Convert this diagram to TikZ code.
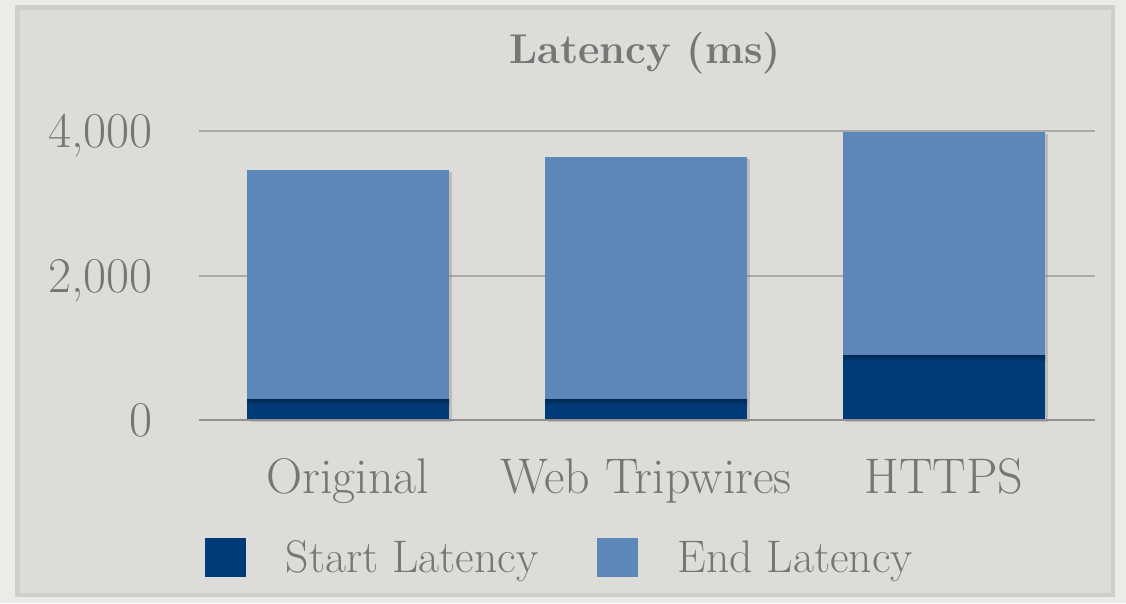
\documentclass[tikz,border=0pt]{standalone}
\usetikzlibrary{positioning}
\usetikzlibrary{shadows}
\definecolor{paper}{HTML}{ECEBE7}
\definecolor{panel}{HTML}{DDDCD9}
\definecolor{rim}{HTML}{CFCECB}
\definecolor{gridc}{HTML}{ABAAA7}
\definecolor{ink}{HTML}{767676}
\definecolor{startc}{HTML}{003A78}
\definecolor{endc}{HTML}{5B87B9}
\tikzset{
    panelbox/.style = {draw=rim, line width=2.8pt, fill=panel},
    gridln/.style = {draw=gridc, line width=1.1pt},
    baseln/.style = {draw=gridc!85!black, line width=1.3pt},
    endbar/.style = {fill=endc, drop shadow={opacity=0.35, shadow xshift=1.8pt, shadow yshift=-1.2pt}},
    startbar/.style = {fill=startc},
    ticklbl/.style = {text=ink, font=\fontsize{28.5}{32}\selectfont, inner sep=0pt},
    catlbl/.style = {text=ink, font=\fontsize{28.5}{32}\selectfont, inner sep=0pt},
    titlelbl/.style = {text=ink, font=\fontsize{23.7}{28}\selectfont\bfseries, inner sep=0pt},
    keybox/.style = {rectangle, inner sep=0pt, minimum width=0.82cm, minimum height=0.78cm},
    keylbl/.style = {text=ink, font=\fontsize{26}{30}\selectfont, inner sep=0pt}
}

\begin{document}
\begin{tikzpicture}[x=0.02cm, y=-0.02cm]
\useasboundingbox (0,0) rectangle (1126,603);
\fill[paper] (0,0) rectangle (1126,603);
\draw[panelbox] (17.5,7.5) rectangle (1113,595);
%
\node[titlelbl, anchor=base] (title) at (645,63) {Latency (ms)};
%
\draw[gridln] (199,131) -- (1095,131);
\draw[gridln] (199,276) -- (1095,276);
\node[ticklbl, anchor=base east] (y4000) at (153,147) {4,000};
\node[ticklbl, anchor=base east] (y2000) at (153,292) {2,000};
\node[ticklbl, anchor=base east] (y0) at (153,436) {0};
%
\foreach \n/\cx/\s/\e/\lab in {orig/348/290/3470/Original, web/646/290/3650/Web Tripwires, https/944/900/4000/HTTPS}
{
  \fill[endbar] (\cx-101,{420-\e*0.072}) rectangle (\cx+101,420);
  \fill[startbar] (\cx-101,{420-\s*0.072}) rectangle (\cx+101,420);
  \shade[top color=startc!70!black, bottom color=startc] (\cx-101,{420-\s*0.072}) rectangle (\cx+101,{426-\s*0.072});
  \node[catlbl, anchor=base] (cat-\n) at (\cx,493) {\lab};
}
\draw[baseln] (199,420) -- (1095,420);
%
\node[keybox, fill=startc] (kstart) at (225.5,557.5) {};
\node[keylbl, right=0.78cm of kstart, yshift=-0.08cm] (tstart) {Start Latency};
\node[keybox, fill=endc] (kend) at (617.5,557.5) {};
\node[keylbl, right=0.78cm of kend, yshift=-0.08cm] (tend) {End Latency};
\end{tikzpicture}
\end{document}
